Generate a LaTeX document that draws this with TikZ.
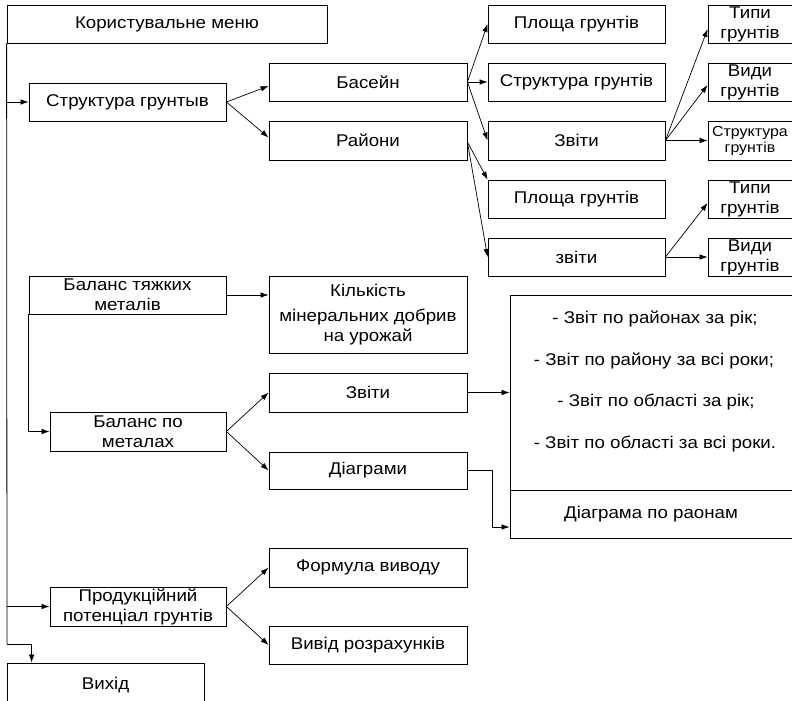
\documentclass[tikz,border=0pt]{standalone}
\usepackage{fontspec}
\setmainfont{Liberation Sans}[FakeStretch=1.1]
\usetikzlibrary{arrows.meta,calc}
\begin{document}
\begin{tikzpicture}[x=1pt,y=-1pt,
  box/.style={draw,line width=0.8pt,inner sep=0pt,align=center,font=\fontsize{17}{20}\selectfont},
  smallbox/.style={box,font=\fontsize{14.5}{16}\selectfont},
  arr/.style={line width=0.7pt,-{Latex[length=8pt,width=5.5pt]}},
  ln/.style={line width=0.8pt}]
\useasboundingbox (0,0) rectangle (792,701);
\begin{scope}
\clip (0,0) rectangle (792,701);
% level 0
\node[box,minimum width=320,minimum height=38] (menu) at (167,24) {Користувальне меню};
\node[box,minimum width=197,minimum height=38] (struct) at (127.5,102) {Структура грунтыв};
\node[box,minimum width=198,minimum height=38] (basin) at (368,82) {Басейн};
\node[box,minimum width=198,minimum height=39] (rayony) at (368,140.5) {Райони};
\node[box,minimum width=177,minimum height=38] (plo1) at (576.5,24) {Площа грунтів};
\node[box,minimum width=177,minimum height=38] (str2) at (576.5,82) {Структура грунтів};
\node[box,minimum width=177,minimum height=39] (zvit1) at (576.5,140.5) {Звіти};
\node[box,minimum width=177,minimum height=38] (plo2) at (576.5,199) {Площа грунтів};
\node[box,minimum width=177,minimum height=38] (zvit2) at (576.5,257) {звіти};
\node[box,minimum width=84,minimum height=38] (typy1) at (750,24) {Типи\\грунтів};
\node[box,minimum width=84,minimum height=38] (vydy1) at (750,82) {Види\\грунтів};
\node[smallbox,minimum width=84,minimum height=39] (str3) at (750,140.5) {Структура\\грунтів};
\node[box,minimum width=84,minimum height=38] (typy2) at (750,199) {Типи\\грунтів};
\node[box,minimum width=84,minimum height=38] (vydy2) at (750,257) {Види\\грунтів};
% metals
\node[box,minimum width=197,minimum height=38] (tyazh) at (127.5,295) {Баланс тяжких\\металів};
\node[box,minimum width=198,minimum height=77] (kilk) at (368,314.5) {Кількість\\[5pt]мінеральних добрив\\на урожай};
\node[box,minimum width=176,minimum height=39] (balm) at (138,431.5) {Баланс по\\металах};
\node[box,minimum width=198,minimum height=39] (zvit3) at (368,392.5) {Звіти};
\node[box,minimum width=198,minimum height=37] (diag) at (368,470.5) {Діаграми};
\node[box,minimum width=282,minimum height=195,font=\fontsize{17}{41.5}\selectfont] (rep) at (651,392.5) {\hspace*{8pt}- Звіт по районах за рік;\\\hspace*{6pt}- Звіт по району за всі роки;\\\hspace*{10pt}- Звіт по області за рік;\\\hspace*{8pt}- Звіт по області за всі роки.\\[-16pt]};
\node[box,minimum width=282,minimum height=48] (diar) at (651,514) {Діаграма по раонам};
% productivity
\node[box,minimum width=176,minimum height=39] (prod) at (138,606.5) {Продукційний\\потенціал грунтів};
\node[box,minimum width=198,minimum height=39] (form) at (368,567.5) {Формула виводу};
\node[box,minimum width=198,minimum height=38] (vyv) at (368,645) {Вивід розрахунків};
\node[box,minimum width=197,minimum height=44] (exit) at (105.5,685) {Вихід};
% connectors
\coordinate (turn) at (7,644);
\draw[ln] (menu.south west) -- (turn) -- (turn -| exit.north west) ++(25,0) coordinate (dn);
\draw[arr] (turn) -| (dn |- exit.north);
\draw[arr] (menu.south west |- struct.west) -- (struct.west);
\draw[arr] (menu.south west |- prod.west) -- (prod.west);
\draw[arr] (struct.east) -- ($(basin.west)+(0,4)$);
\draw[arr] (struct.east) -- ($(rayony.west)+(0,-3)$);
\draw[arr] (basin.east) -- (plo1.west);
\draw[arr] (basin.east) -- (str2.west);
\draw[arr] (basin.east) -- (zvit1.west);
\draw[arr] ($(rayony.east)+(0,1.5)$) -- (plo2.north west);
\draw[arr] ($(rayony.east)+(0,1.5)$) -- (zvit2.west);
\draw[arr] (zvit1.east) -- ($(typy1.west)+(0,5)$);
\draw[arr] (zvit1.east) -- ($(vydy1.west)+(0,3)$);
\draw[arr] (zvit1.east) -- (str3.west);
\draw[arr] (zvit2.east) -- ($(typy2.west)+(0,4)$);
\draw[arr] (zvit2.east) -- (vydy2.west);
\draw[arr] (tyazh.east) -- (kilk.west |- tyazh.east);
\draw[arr] (tyazh.south west) |- (balm.west);
\draw[arr] (balm.east) -- (zvit3.west);
\draw[arr] (balm.east) -- (diag.west);
\draw[arr] (zvit3.east) -- (rep.west |- zvit3.east);
\coordinate (dk) at (492,527);
\draw[arr] (diag.east) -| (dk) -- (diar.west |- dk);
\draw[arr] (prod.east) -- (form.west);
\draw[arr] (prod.east) -- (vyv.west);
\end{scope}
\end{tikzpicture}
\end{document}
